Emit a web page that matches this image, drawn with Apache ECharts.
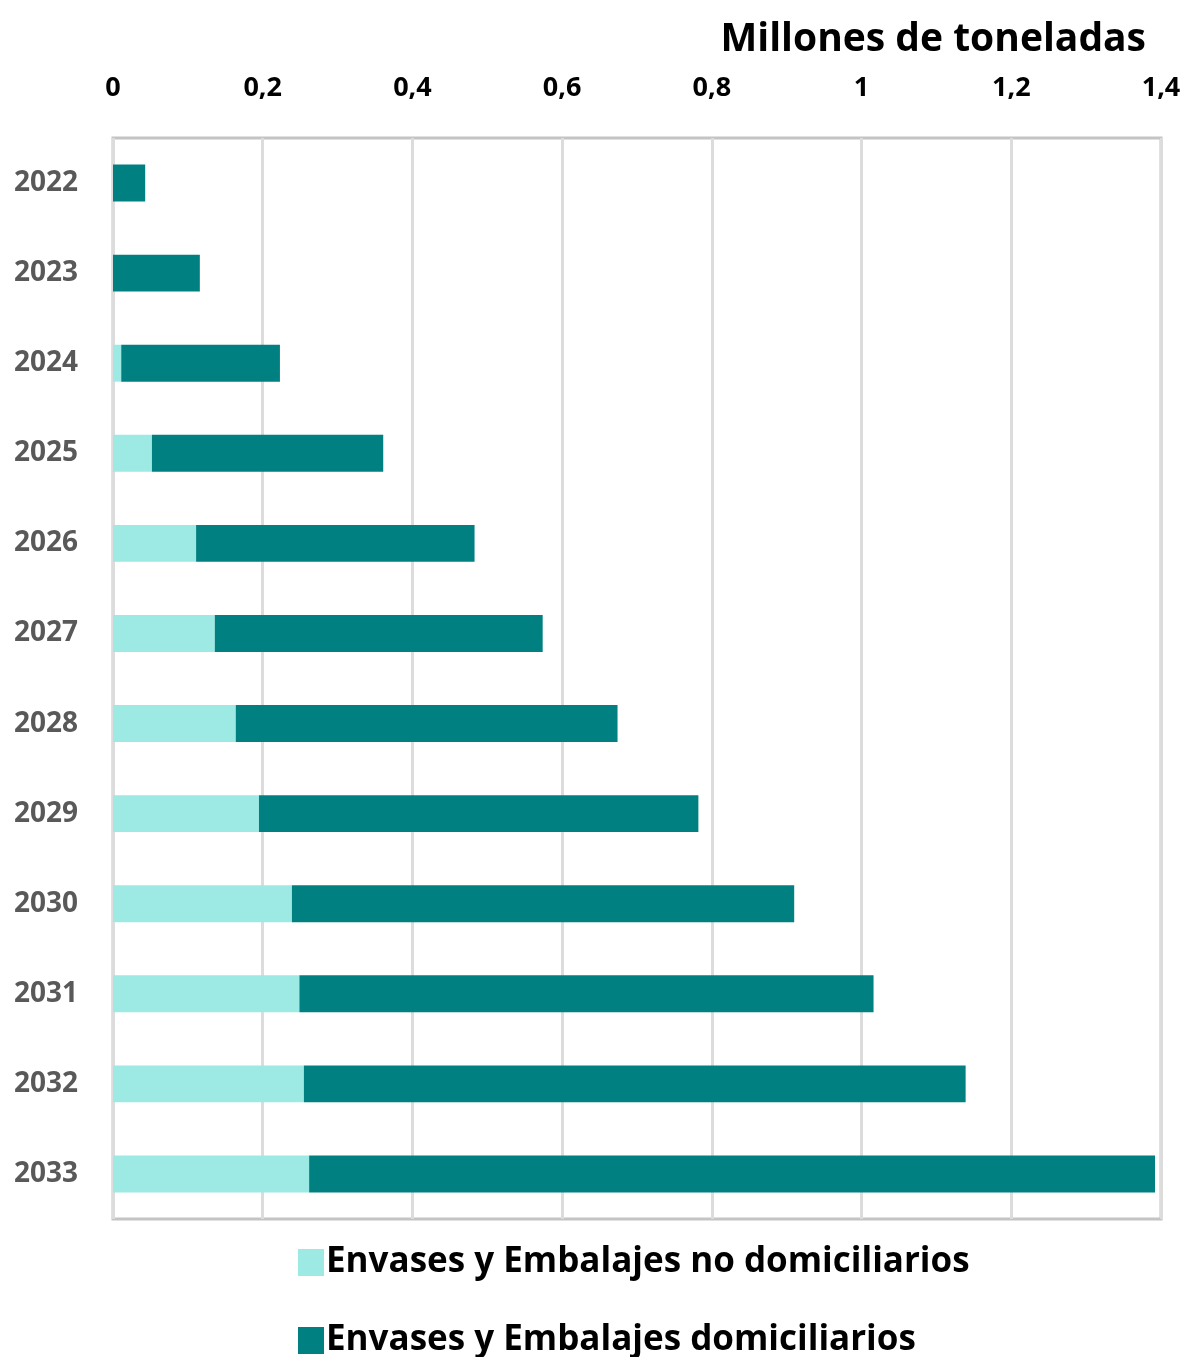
<!DOCTYPE html>
<html>
<head>
<meta charset="utf-8">
<script src="https://cdn.jsdelivr.net/npm/echarts@6/dist/echarts.min.js"></script>
<style>
html,body{margin:0;padding:0;background:#fff;}
#chart{width:1185px;height:1357px;}
</style>
</head>
<body>
<div id="chart"></div>
<script>
const years = ['2022','2023','2024','2025','2026','2027','2028','2029','2030','2031','2032','2033'];
const noDomiciliarios = [0, 0, 0.011, 0.052, 0.111, 0.136, 0.164, 0.195, 0.239, 0.249, 0.255, 0.262];
const domiciliarios = [0.043, 0.116, 0.212, 0.309, 0.372, 0.438, 0.510, 0.587, 0.671, 0.767, 0.884, 1.130];
const seriesNames = ['Envases y Embalajes no domiciliarios', 'Envases y Embalajes domiciliarios'];
const titleText = 'Millones de toneladas';

const FONT = '"Open Sans", Lato, sans-serif';
const legendText = {fontFamily: FONT, fontSize: 35, fontWeight: 'bold', color: '#000', padding: [0,0,0,-3]};
const chart = echarts.init(document.getElementById('chart'));
chart.setOption({
  backgroundColor: '#fff',
  animation: false,
  title: {
    text: titleText,
    right: 34,
    top: 15,
    textStyle: {fontFamily: FONT, fontSize: 39, fontWeight: 'bold', color: '#000'}
  },
  legend: [
    {
      left: 293, top: 1240, itemWidth: 26, itemHeight: 27, icon: 'rect',
      textStyle: legendText, data: [seriesNames[0]]
    },
    {
      left: 293, top: 1318, itemWidth: 26, itemHeight: 27, icon: 'rect',
      textStyle: legendText, data: [seriesNames[1]]
    }
  ],
  grid: {
    left: 113, right: 24, top: 138, bottom: 138,
    show: true, borderColor: '#c4c4c4', borderWidth: 3,
    containLabel: false
  },
  xAxis: {
    type: 'value',
    position: 'top',
    min: 0, max: 1.4, interval: 0.2,
    axisLine: {show: false},
    axisTick: {show: false},
    axisLabel: {
      margin: 36,
      fontFamily: FONT, fontSize: 27, fontWeight: 'bold', color: '#000',
      formatter: v => String(Math.round(v*10)/10).replace('.', ',')
    },
    splitLine: {show: true, lineStyle: {color: '#dcdcdc', width: 3}}
  },
  yAxis: {
    type: 'category',
    data: years,
    inverse: true,
    axisLine: {show: false},
    axisTick: {show: false},
    axisLabel: {margin: 35, fontFamily: FONT, fontSize: 28, fontWeight: 'bold', color: '#595959'}
  },
  series: [
    {
      name: seriesNames[0], type: 'bar', stack: 'total',
      data: noDomiciliarios, barWidth: '41%',
      itemStyle: {color: '#9deae5'}
    },
    {
      name: seriesNames[1], type: 'bar', stack: 'total',
      data: domiciliarios, barWidth: '41%',
      itemStyle: {color: '#008080'}
    }
  ]
});
</script>
</body>
</html>
